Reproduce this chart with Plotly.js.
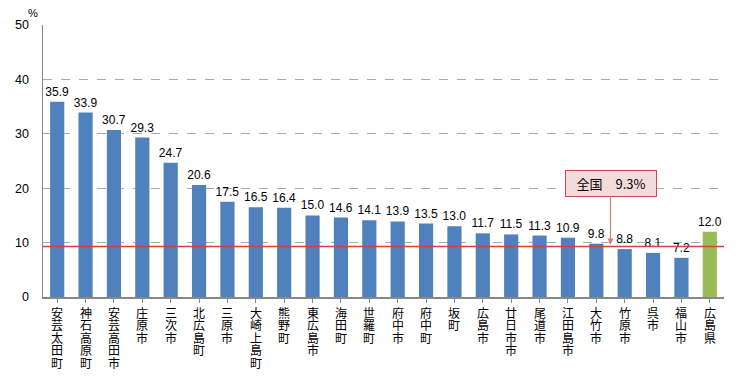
<!DOCTYPE html>
<html>
<head>
<meta charset="utf-8">
<script src="https://cdn.plot.ly/plotly-3.0.1.min.js"></script>
<style>html,body{margin:0;padding:0;background:#fff;}#chart{width:756px;height:379px;}</style>
</head>
<body>
<div id="chart"></div>
<script>
const categories = ["安芸太田町","神石高原町","安芸高田市","庄原市","三次市","北広島町","三原市","大崎上島町","熊野町","東広島市","海田町","世羅町","府中市","府中町","坂町","広島市","廿日市市","尾道市","江田島市","大竹市","竹原市","呉市","福山市","広島県"];
const values = [35.9,33.9,30.7,29.3,24.7,20.6,17.5,16.5,16.4,15.0,14.6,14.1,13.9,13.5,13.0,11.7,11.5,11.3,10.9,9.8,8.8,8.1,7.2,12.0];
const nationalValue = 9.3;
const nationalLabel = "全国　9.3%";
const yTicks = [0,10,20,30,40,50];

const colors = categories.map(c => c === "広島県" ? "#9bbb59" : "#4f81bd");
const font = "Liberation Sans, Arial, Noto Sans CJK JP, sans-serif";
const cjk = "Noto Sans CJK JP, sans-serif";

// category names written vertically, one character under the other
const annotations = [];
categories.forEach((c, i) => {
  Array.from(c).forEach((ch, j) => {
    annotations.push({
      x: i, y: 0, xref: 'x', yref: 'y', text: ch, showarrow: false,
      xanchor: 'center', yanchor: 'middle', yshift: -15 - j * 12.5, borderpad: 0,
      font: {family: cjk, size: 12, color: '#000'}
    });
  });
});
annotations.push({
  x: 0, y: 1, xref: 'paper', yref: 'paper', text: '%', showarrow: false,
  xanchor: 'right', yanchor: 'bottom', xshift: -3, yshift: 4,
  font: {family: font, size: 11, color: '#000'}
});
annotations.push({
  x: 19.5, y: nationalValue, xref: 'x', yref: 'y', text: nationalLabel,
  showarrow: true, arrowhead: 2, arrowsize: 1, arrowwidth: 1.2, arrowcolor: '#d77a7a',
  ax: 0, ay: -63, standoff: 2,
  bgcolor: '#f2dcdb', bordercolor: '#c0504d', borderwidth: 1, borderpad: 1,
  width: 88, height: 23,
  font: {family: cjk, size: 13, color: '#000'}
});

const trace = {
  type: 'bar', x: categories.map((c, i) => i), y: values,
  marker: {color: colors},
  text: values.map(v => v.toFixed(1)), textposition: 'outside', constraintext: 'none',
  textfont: {family: font, size: 12, color: '#000'},
  cliponaxis: false, hoverinfo: 'none'
};

const layout = {
  width: 756, height: 379,
  margin: {l: 43, r: 32, t: 25, b: 82},
  paper_bgcolor: '#fff', plot_bgcolor: '#fff',
  showlegend: false, bargap: 0.5,
  font: {family: font, size: 12, color: '#000'},
  xaxis: {
    range: [-0.5, categories.length - 0.5], tickmode: 'array',
    tickvals: categories.map((c, i) => i), showticklabels: false,
    ticks: 'outside', tickson: 'boundaries', ticklen: 4, tickcolor: '#888',
    showline: true, linecolor: '#888', linewidth: 1.5, showgrid: false, zeroline: false
  },
  yaxis: {
    range: [0, 50], tickmode: 'array', tickvals: yTicks, ticks: '',
    showline: true, linecolor: '#888', linewidth: 1.5,
    showgrid: true, gridcolor: '#aaa', griddash: 'dash', gridwidth: 1,
    zeroline: false, tickfont: {family: font, size: 12.5}, ticklabelstandoff: 10
  },
  shapes: [{
    type: 'line', xref: 'paper', yref: 'y', x0: 0, x1: 1, y0: nationalValue, y1: nationalValue,
    line: {color: '#d84040', width: 1.5}
  }],
  annotations: annotations
};

Plotly.newPlot('chart', [trace], layout, {staticPlot: true, displayModeBar: false});
</script>
</body>
</html>
